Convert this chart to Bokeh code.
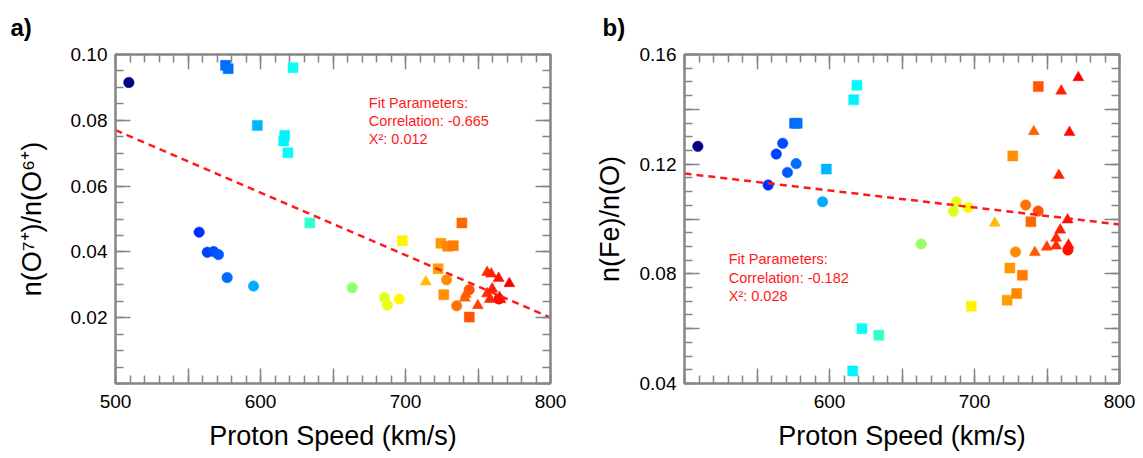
import numpy as np
from bokeh.plotting import figure
from bokeh.models import (ColumnDataSource, LinearAxis, SingleIntervalTicker,
                          CustomJSTickFormatter, Label, Range1d, Title)
from bokeh.layouts import row
from bokeh.transform import linear_cmap
from bokeh.embed import file_html
from bokeh.resources import INLINE

# ---------------- data ----------------
circle_speed = [509.2, 557.7, 563.3, 567.7, 571.0, 577.0, 595.2, 663.2, 685.5, 687.5, 695.7, 728.3, 735.3, 743.9, 764.4]
circle_o76 = [0.0915, 0.0460, 0.0399, 0.0401, 0.0392, 0.0322, 0.0296, 0.0291, 0.0261, 0.0238, 0.0257, 0.0315, 0.0236, 0.0285, 0.0257]
circle_feo = [0.1265, 0.1124, 0.1237, 0.1276, 0.1170, 0.1202, 0.1063, 0.0909, 0.1028, 0.1063, 0.1042, 0.0880, 0.1051, 0.1029, 0.0887]

square_speed = [575.9, 577.7, 597.8, 616.0, 616.7, 618.9, 622.4, 634.0, 697.8, 722.5, 724.4, 726.4, 729.1, 733.0, 738.9, 744.0]
square_o76 = [0.0967, 0.0957, 0.0784, 0.0737, 0.0754, 0.0701, 0.0960, 0.0488, 0.0434, 0.0349, 0.0426, 0.0270, 0.0417, 0.0419, 0.0488, 0.0202]
square_feo = [0.1349, 0.1349, 0.1182, 0.0446, 0.1435, 0.1488, 0.0600, 0.0576, 0.0682, 0.0704, 0.0821, 0.1230, 0.0728, 0.0795, 0.0990, 0.1483]

triangle_speed = [714.0, 740.9, 741.6, 749.9, 756.3, 756.3, 758.2, 759.1, 759.8, 764.2, 765.5, 764.8, 771.6]
triangle_o76 = [0.0309, 0.0260, 0.0271, 0.0237, 0.0338, 0.0273, 0.0256, 0.0333, 0.0288, 0.0320, 0.0255, 0.0262, 0.0304]
triangle_feo = [0.0985, 0.1319, 0.0878, 0.0898, 0.0902, 0.0930, 0.1159, 0.0960, 0.1467, 0.0997, 0.1316, 0.0905, 0.1516]

fit_speed = [500, 800]
fit_o76 = [0.0770, 0.0200]
fit_feo = [0.1166, 0.0980]

fit_text_o = ["Fit Parameters:", "Correlation: -0.665", "X\u00b2: 0.012"]
fit_text_fe = ["Fit Parameters:", "Correlation: -0.182", "X\u00b2: 0.028"]

# ---------------- styling helpers ----------------
FONT = "Liberation Sans"
GRAY = "#858585"
RED = "#ff1a1a"


def jet_hex(t):
    r = np.clip(1.5 - abs(4 * t - 3), 0, 1)
    g = np.clip(1.5 - abs(4 * t - 2), 0, 1)
    b = np.clip(1.5 - abs(4 * t - 1), 0, 1)
    return "#%02x%02x%02x" % (int(r * 255), int(g * 255), int(b * 255))


JET = [jet_hex(t) for t in np.linspace(0, 1, 256)]
cmap = linear_cmap("speed", JET, low=507, high=807)

src_c = ColumnDataSource(dict(speed=circle_speed, o76=circle_o76, feo=circle_feo))
src_s = ColumnDataSource(dict(speed=square_speed, o76=square_o76, feo=square_feo))
src_t = ColumnDataSource(dict(speed=triangle_speed, o76=triangle_o76, feo=triangle_feo))
src_fit = ColumnDataSource(dict(speed=fit_speed, o76=fit_o76, feo=fit_feo))


def style_axis(ax):
    ax.axis_line_color = GRAY
    ax.axis_line_width = 2
    ax.major_tick_line_color = GRAY
    ax.minor_tick_line_color = GRAY
    ax.major_tick_line_width = 1.5
    ax.minor_tick_line_width = 1.5
    ax.major_tick_in = 15
    ax.major_tick_out = 0
    ax.minor_tick_in = 8
    ax.minor_tick_out = 0
    ax.major_label_text_font = FONT
    ax.major_label_text_font_size = "19px"
    ax.major_label_text_color = "black"
    ax.axis_label_text_font = FONT
    ax.axis_label_text_font_size = "27px"
    ax.axis_label_text_font_style = "normal"
    ax.axis_label_text_color = "black"


def make_panel(width, border_left, border_right, yr, yfield, ylabel, ytick_code,
               xtick_code, y_label_standoff, texts, text_x, text_ys, panel_label, label_offset):
    p = figure(width=width, height=458, x_range=Range1d(500, 800), y_range=Range1d(*yr),
               output_backend="svg", toolbar_location=None,
               min_border_left=border_left, min_border_right=border_right,
               min_border_top=54, min_border_bottom=75,
               background_fill_color="white", border_fill_color="white")
    p.xgrid.visible = False
    p.ygrid.visible = False
    p.outline_line_color = GRAY
    p.outline_line_width = 2

    xb = p.xaxis[0]
    yl = p.yaxis[0]
    xt = LinearAxis()
    yr_ax = LinearAxis()
    p.add_layout(xt, "above")
    p.add_layout(yr_ax, "right")

    for ax in (xb, xt):
        ax.ticker = SingleIntervalTicker(interval=50, num_minor_ticks=5)
    for ax in (yl, yr_ax):
        ax.ticker = SingleIntervalTicker(interval=0.02, num_minor_ticks=4)
    xb.formatter = CustomJSTickFormatter(code=xtick_code)
    yl.formatter = CustomJSTickFormatter(code=ytick_code)
    xt.formatter = CustomJSTickFormatter(code="return '';")
    yr_ax.formatter = CustomJSTickFormatter(code="return '';")

    for ax in (xb, yl, xt, yr_ax):
        style_axis(ax)
    xt.major_label_standoff = 0
    yr_ax.major_label_standoff = 0

    xb.axis_label = "Proton Speed (km/s)"
    xb.major_label_standoff = 11
    xb.axis_label_standoff = 10
    yl.axis_label = ylabel
    yl.major_label_standoff = 8
    yl.axis_label_standoff = y_label_standoff

    p.scatter("speed", yfield, source=src_c, marker="circle", size=10.5,
              fill_color=cmap, line_color=cmap, line_alpha=0.5)
    p.scatter("speed", yfield, source=src_s, marker="square", size=10,
              fill_color=cmap, line_color=cmap, line_alpha=0.5)
    p.scatter("speed", yfield, source=src_t, marker="triangle", size=11,
              fill_color=cmap, line_color=cmap, line_alpha=0.5)

    p.line("speed", yfield, source=src_fit, line_color=RED, line_width=2.5,
           line_dash="7 5")

    for t, ty in zip(texts, text_ys):
        p.add_layout(Label(x=text_x, y=ty, text=t, text_color=RED, text_font=FONT,
                           text_font_size="14.5px", text_baseline="alphabetic"))

    title = Title(text=panel_label, align="left", offset=label_offset, standoff=24,
                  vertical_align="top",
                  text_font=FONT, text_font_size="24px", text_font_style="bold",
                  text_color="black")
    p.add_layout(title, "above")
    return p


p1 = make_panel(
    580, 115, 30, (0.0, 0.10), "o76", "n(O\u2077\u207a)/n(O\u2076\u207a)",
    "const v = Math.round(tick*100); return v > 0 ? (v/100).toFixed(2) : '';",
    "const v = Math.round(tick); return (v % 100 === 0) ? String(v) : '';",
    21, fit_text_o, 674.7, [0.0853, 0.0797, 0.0742], "a)", -105)

p2 = make_panel(
    563, 104, 24, (0.04, 0.16), "feo", "n(Fe)/n(O)",
    "const v = Math.round(tick*100); return (v % 4 === 0) ? (v/100).toFixed(2) : '';",
    "const v = Math.round(tick); return (v % 100 === 0 && v > 500) ? String(v) : '';",
    12, fit_text_fe, 530.5, [0.0853, 0.0786, 0.0720], "b)", -82)

layout = row(p1, p2)
open("out.html", "w").write(file_html(layout, INLINE))
